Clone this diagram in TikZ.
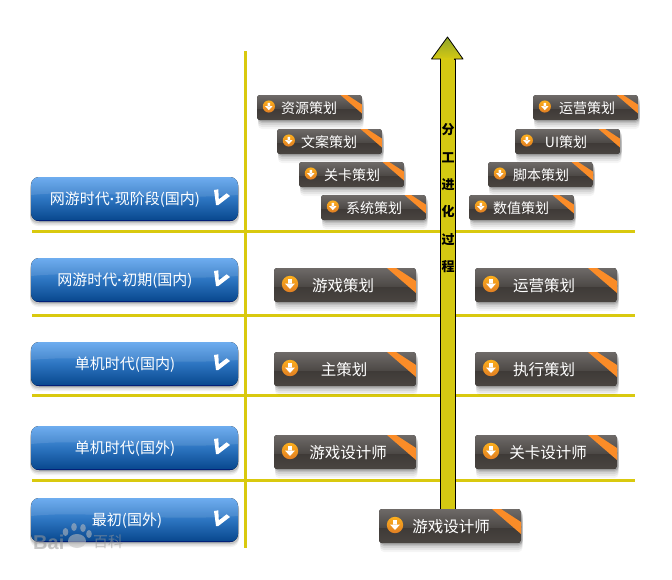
\documentclass[tikz,border=0pt]{standalone}
\usepackage{fontspec}
\setmainfont{Noto Sans CJK SC}
\newfontfamily\latinf{Liberation Sans}
\usetikzlibrary{shapes.geometric}
\definecolor{railyellow}{HTML}{D9C90E}
\definecolor{shaftyellow}{HTML}{D5C912}
\definecolor{headgreen}{HTML}{8FA52A}
\definecolor{blueTop}{HTML}{5EA4EE}
\definecolor{blueMid}{HTML}{2C74C0}
\definecolor{blueBot}{HTML}{07468C}
\definecolor{darkTop}{HTML}{6E6A68}
\definecolor{darkMid}{HTML}{4C4845}
\definecolor{darkLow}{HTML}{3D3936}
\definecolor{darkBot}{HTML}{4A4541}
\definecolor{stripe}{HTML}{FA8C28}
\tikzset{
  rail/.style={draw=railyellow,line width=3pt},
  btntext/.style={text=white,inner sep=0pt,anchor=center},
  vlabel/.style={text=black,inner sep=0pt,font=\bfseries\fontsize{13}{13}\selectfont},
  wm/.style={text=black!40,text opacity=.55,inner sep=0pt,anchor=west},
}
% \bluebtn{name}{x}{y}{h}{text}{text centre x}
\newcommand\bluebtn[6]{%
  \begin{scope}[shift={(#2,#3)}]
    \foreach \s/\o in {5/.05,3.5/.08,2/.12}{%
      \fill[black,opacity=\o,rounded corners=8pt] (-1,\s) rectangle (208,#4+\s);}
    \fill[rounded corners=8pt,top color=blueTop,bottom color=blueBot,middle color=blueMid] (0,0) rectangle (207,#4);
    \begin{scope}
      \clip[rounded corners=8pt] (0,0) rectangle (207,#4);
      \fill[white,opacity=.10] (0,0) -- (207,0) -- (207,18) .. controls (120,24) and (60,12) .. (0,18) -- cycle;
      \fill[black!60!blue,opacity=.55] (0,#4-1.5) rectangle (207,#4);
    \end{scope}
    \fill[white] (183,13) -- (187.3,12.3) -- (187.8,22.3) -- (195.7,16.3) -- (199,19) -- (187.3,28) -- (185,28) -- cycle;
    \node[btntext,font=\fontsize{15}{15}\selectfont] (#1) at (#6-#2,23) {#5};
  \end{scope}}
% \darkbtn{name}{x}{y}{w}{h}{scale}{text}{text centre x}
\newcommand\darkbtn[8]{%
  \begin{scope}[shift={(#2,#3)}]
    \foreach \s/\o in {9/.04,7/.06,5/.07,3/.10,1.5/.14}{%
      \fill[black,opacity=\o,rounded corners=4pt] (1,\s) rectangle (#4+1.5,#5+\s);}
    \begin{scope}
      \clip[rounded corners=3pt] (0,0) rectangle (#4,#5);
      \fill[top color=darkLow,bottom color=darkBot] (0,#5*0.5) rectangle (#4,#5);
      \fill[top color=darkTop,bottom color=darkMid] (0,0) rectangle (#4,#5*0.55);
      \fill[stripe] (#4-29*#6,0) -- (#4-20*#6,0) -- (#4,13*#6) -- (#4,25*#6) -- cycle;
    \end{scope}
    \begin{scope}[shift={(16*#6,#5*0.5-1)},scale=#6]
      \shade[top color=stripe!70!yellow,bottom color=stripe!90!black] (0,0) circle[radius=8.2];
      \fill[white] (-1.8,-5) rectangle (1.8,0) (-5,-0.5) -- (5,-0.5) -- (0,5) -- cycle;
    \end{scope}
    \node[btntext] (#1) at (#8-#2,#5*0.5+0.5) {#7};
  \end{scope}}
\newcommand\fsB{\fontsize{15.5}{16}\selectfont}
\newcommand\fsS{\fontsize{14}{15}\selectfont}
\newcommand\mdot{{\latinf\bfseries·}}
\begin{document}
\begin{tikzpicture}[x=1pt,y=-1pt]
\useasboundingbox (0,0) rectangle (672,579);
\fill[white] (0,0) rectangle (672,579);
% rails
\coordinate (vt) at (245.5,51); \coordinate (vb) at (245.5,548);
\draw[rail] (vt) -- (vb);
\foreach \yy in {231.5,315.5,395.5,480.5}{\draw[rail] (32,\yy) -- (635,\yy);}
% growth arrow
\draw[black,line width=1pt,fill=shaftyellow] (440,512) -- (440,59) -- (455,59) -- (455,512);
\path[top color=headgreen,bottom color=shaftyellow,draw=black,line width=.8pt,line join=round]
  (447.5,37) -- (463,59) -- (431.5,59) -- cycle;
\fill[shaftyellow] (440.6,58) rectangle (454.4,60);
\foreach \n/\t/\yy in {a/分/130,b/工/158,c/进/185,d/化/212,e/过/240,f/程/267}{
  \node[vlabel] (v\n) at (448,\yy) {\t};}
% blue
\bluebtn{blueA}{31}{177}{44}{网游时代\mdot 现阶段(国内)}{125}
\bluebtn{blueB}{31}{258}{44}{网游时代\mdot 初期(国内)}{125}
\bluebtn{blueC}{31}{342}{44}{单机时代(国内)}{125}
\bluebtn{blueD}{31}{426}{44}{单机时代(国外)}{125}
\bluebtn{blueE}{31}{498}{44}{最初(国外)}{127}
% large
\darkbtn{gamePlan}{274}{268}{142}{34}{1}{\fsB 游戏策划}{343}
\darkbtn{opsPlan}{475}{268}{142}{34}{1}{\fsB 运营策划}{544}
\darkbtn{mainPlan}{274}{352}{142}{34}{1}{\fsB 主策划}{344}
\darkbtn{execPlan}{475}{352}{142}{34}{1}{\fsB 执行策划}{544}
\darkbtn{designerA}{274}{435}{142}{34}{1}{\fsB 游戏设计师}{348}
\darkbtn{levelD}{475}{435}{142}{34}{1}{\fsB 关卡设计师}{548}
\darkbtn{designerB}{379}{509}{142}{34}{1}{\fsB 游戏设计师}{451}
% small
\darkbtn{res}{257}{95}{105}{25}{.74}{\fsS 资源策划}{309}
\darkbtn{copy}{277}{129}{105}{25}{.74}{\fsS 文案策划}{329}
\darkbtn{levelS}{299}{162}{105}{25}{.74}{\fsS 关卡策划}{352}
\darkbtn{sys}{321}{195}{105}{25}{.74}{\fsS 系统策划}{374}
\darkbtn{opsS}{533}{95}{105}{25}{.74}{\fsS 运营策划}{587}
\darkbtn{ui}{515}{129}{105}{25}{.74}{\fsS UI策划}{566}
\darkbtn{script}{488}{162}{105}{25}{.74}{\fsS 脚本策划}{541}
\darkbtn{num}{469}{195}{105}{25}{.74}{\fsS 数值策划}{521}
% watermark
\node[wm,font=\latinf\bfseries\fontsize{20}{20}\selectfont] (wmA) at (33,542) {Bai};
\node[wm,font=\fontsize{15}{15}\selectfont] (wmB) at (93,542) {百科};
\begin{scope}[fill=black!25,opacity=.55]
  \fill (65.5,532) circle[x radius=2.8,y radius=4];
  \fill (74,527) circle[x radius=2.8,y radius=4];
  \fill (83,528) circle[x radius=2.8,y radius=4];
  \fill (89,534) circle[x radius=2.8,y radius=4];
  \fill (77,541) circle[x radius=9,y radius=7];
\end{scope}
\end{tikzpicture}
\end{document}
